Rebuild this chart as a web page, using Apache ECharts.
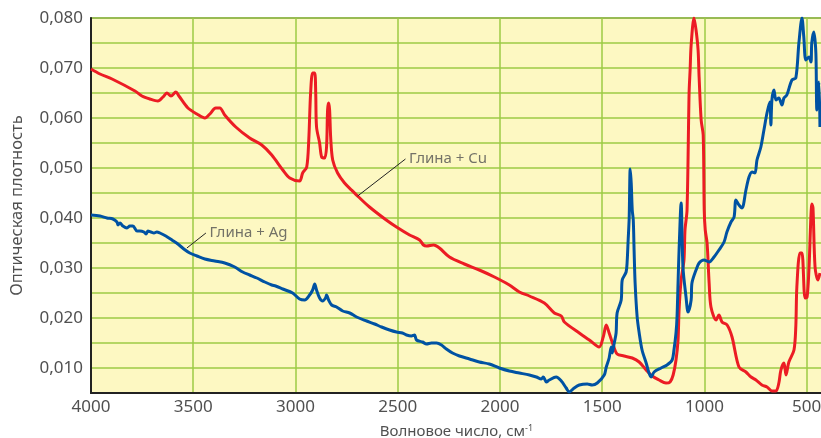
<!DOCTYPE html>
<html>
<head>
<meta charset="utf-8">
<script src="https://cdn.jsdelivr.net/npm/echarts@6/dist/echarts.min.js"></script>
<style>html,body{margin:0;padding:0;background:#fff;}#c{width:821px;height:438px;}</style>
</head>
<body>
<div id="c"></div>
<script>
// Wavenumber ticks (cm-1)
const xTicks = [4000, 3500, 3000, 2500, 2000, 1500, 1000, 500];

// Глина + Cu  [wavenumber, optical density]
const cuX = [4000,3956,3897,3785,3751,3712,3673,3648,3629,3609,3585,3570,3526,3482,3443,3419,3390,3370,3346,3292,3224,3165,3116,3062,3028,2980,2965,2945,2935,2926,2916,2906,2901,2897,2882,2872,2857,2848,2843,2838,2833,2828,2818,2794,2760,2726,2691,2638,2556,2506,2442,2393,2374,2359,2325,2296,2247,2174,2101,2027,1954,1905,1856,1783,1734,1700,1685,1612,1563,1515,1495,1480,1466,1446,1427,1393,1353,1319,1285,1256,1222,1188,1168,1153,1139,1129,1124,1114,1100,1095,1085,1075,1070,1065,1051,1041,1031,1026,1016,1006,1001,996,987,977,968,943,929,914,889,865,831,797,772,748,719,694,670,650,636,626,611,601,587,562,553,548,533,523,508,498,489,474,469,459,445,435];
const cuY = [0.0698,0.0688,0.0678,0.0654,0.0644,0.0638,0.0634,0.0642,0.0650,0.0644,0.0652,0.0644,0.0620,0.0608,0.0600,0.0608,0.0620,0.0620,0.0606,0.0582,0.0560,0.0546,0.0526,0.0496,0.0480,0.0474,0.0490,0.0502,0.0556,0.0650,0.0690,0.0690,0.0650,0.0582,0.0550,0.0522,0.0520,0.0542,0.0616,0.0630,0.0616,0.0562,0.0516,0.0490,0.0470,0.0456,0.0442,0.0422,0.0396,0.0382,0.0366,0.0356,0.0346,0.0344,0.0346,0.0340,0.0322,0.0308,0.0296,0.0282,0.0266,0.0252,0.0244,0.0230,0.0210,0.0204,0.0192,0.0170,0.0156,0.0142,0.0162,0.0186,0.0170,0.0146,0.0128,0.0124,0.0120,0.0112,0.0096,0.0084,0.0076,0.0070,0.0072,0.0086,0.0116,0.0156,0.0216,0.0276,0.0316,0.0376,0.0416,0.0650,0.0696,0.0746,0.0800,0.0776,0.0736,0.0682,0.0596,0.0566,0.0416,0.0376,0.0350,0.0270,0.0222,0.0196,0.0206,0.0192,0.0186,0.0162,0.0102,0.0092,0.0082,0.0076,0.0066,0.0062,0.0054,0.0054,0.0070,0.0096,0.0110,0.0086,0.0112,0.0136,0.0184,0.0262,0.0330,0.0330,0.0240,0.0242,0.0296,0.0428,0.0420,0.0302,0.0276,0.0290];

// Глина + Ag
const agX = [4000,3956,3922,3893,3873,3868,3858,3844,3824,3810,3795,3775,3761,3741,3731,3722,3707,3692,3678,3663,3634,3604,3575,3546,3517,3482,3443,3395,3346,3297,3258,3224,3189,3150,3116,3097,3062,3014,2980,2955,2931,2916,2906,2897,2882,2867,2853,2848,2838,2823,2799,2769,2735,2701,2652,2613,2579,2540,2506,2477,2457,2433,2418,2408,2379,2359,2335,2310,2286,2262,2232,2198,2149,2101,2052,2003,1954,1905,1856,1822,1798,1788,1773,1759,1725,1700,1676,1661,1637,1612,1573,1549,1524,1490,1480,1466,1456,1451,1441,1432,1427,1407,1402,1383,1378,1373,1368,1363,1358,1353,1348,1344,1339,1329,1319,1305,1285,1271,1261,1246,1212,1183,1158,1149,1139,1134,1129,1124,1114,1105,1090,1080,1065,1061,1041,1026,1002,977,953,929,904,890,870,855,846,831,816,797,782,767,753,743,724,709,694,680,675,670,660,650,636,621,611,597,572,553,538,523,514,504,489,479,475,465,455,450,440,435];
const agY = [0.0406,0.0404,0.0400,0.0398,0.0392,0.0386,0.0390,0.0384,0.0380,0.0384,0.0384,0.0374,0.0374,0.0372,0.0368,0.0374,0.0372,0.0370,0.0372,0.0370,0.0364,0.0356,0.0348,0.0338,0.0330,0.0324,0.0318,0.0314,0.0310,0.0302,0.0292,0.0286,0.0280,0.0272,0.0266,0.0264,0.0258,0.0250,0.0238,0.0236,0.0246,0.0256,0.0268,0.0256,0.0240,0.0234,0.0240,0.0246,0.0236,0.0226,0.0222,0.0214,0.0210,0.0202,0.0194,0.0188,0.0182,0.0176,0.0172,0.0170,0.0166,0.0164,0.0166,0.0156,0.0152,0.0148,0.0150,0.0150,0.0146,0.0138,0.0130,0.0124,0.0118,0.0112,0.0108,0.0100,0.0094,0.0090,0.0086,0.0082,0.0078,0.0082,0.0072,0.0076,0.0082,0.0074,0.0060,0.0052,0.0060,0.0066,0.0068,0.0066,0.0070,0.0086,0.0102,0.0120,0.0142,0.0130,0.0150,0.0170,0.0210,0.0236,0.0276,0.0292,0.0312,0.0356,0.0400,0.0498,0.0470,0.0416,0.0396,0.0336,0.0270,0.0202,0.0170,0.0136,0.0110,0.0090,0.0082,0.0092,0.0100,0.0106,0.0116,0.0136,0.0170,0.0202,0.0270,0.0336,0.0430,0.0302,0.0242,0.0212,0.0236,0.0270,0.0296,0.0310,0.0316,0.0312,0.0322,0.0336,0.0352,0.0372,0.0392,0.0402,0.0436,0.0426,0.0420,0.0456,0.0482,0.0492,0.0490,0.0516,0.0542,0.0576,0.0610,0.0632,0.0586,0.0636,0.0656,0.0636,0.0640,0.0626,0.0640,0.0646,0.0676,0.0680,0.0750,0.0800,0.0762,0.0716,0.0722,0.0712,0.0750,0.0772,0.0730,0.0616,0.0672,0.0582];

// Annotation leader lines [wavenumber, density]
const agLeaderX = [3531, 3438];
const agLeaderY = [0.0340, 0.0370];
const cuLeaderX = [2696, 2462];
const cuLeaderY = [0.0444, 0.0518];
const agName = 'Глина + Ag';
const cuName = 'Глина + Cu';

const zip = (xs, ys) => xs.map((x, i) => [x, ys[i]]);
const FONT = 'Noto Sans';
const TXT = '#505050';

function leader(xs, ys) {
  return {
    type: 'line', data: zip(xs, ys), symbol: 'none', silent: true,
    lineStyle: {color: '#222', width: 1}, z: 5
  };
}
function tag(xs, ys, name) {
  const n = xs.length - 1;
  return {
    type: 'scatter', data: [[xs[n], ys[n]]], symbol: 'circle', symbolSize: 1, silent: true,
    itemStyle: {color: 'rgba(0,0,0,0)'}, z: 6,
    label: {show: true, position: 'right', distance: 3, formatter: name,
      color: TXT, fontFamily: FONT, fontSize: 15}
  };
}

const chart = echarts.init(document.getElementById('c'), null, {renderer: 'canvas'});
chart.setOption({
  animation: false,
  grid: {left: 91, right: -1, top: 18, bottom: 45, show: true, outerBoundsMode: 'none', containLabel: false,
    backgroundColor: '#FDF8C2', borderColor: '#666', borderWidth: 1.5},
  xAxis: {
    type: 'value', inverse: true, min: 425, max: 4000,
    name: 'Волновое число, см{sup|-1}', nameLocation: 'middle', nameGap: 31,
    nameTextStyle: {color: TXT, fontFamily: FONT, fontSize: 15,
      rich: {sup: {fontSize: 9, verticalAlign: 'top', color: TXT, fontFamily: FONT, padding: [0,0,6,0]}}},
    axisLine: {show: true, onZero: false, lineStyle: {color: '#222', width: 2}},
    axisTick: {show: false, customValues: xTicks},
    axisLabel: {customValues: xTicks, color: TXT, fontFamily: FONT, fontSize: 17, margin: 6,
      hideOverlap: false, formatter: v => String(v)},
    splitLine: {show: true, lineStyle: {color: '#9CCB45', width: 1.5}}
  },
  yAxis: {
    type: 'value', min: 0.005, max: 0.080, interval: 0.005,
    name: 'Оптическая плотность', nameLocation: 'middle', nameGap: 65, nameRotate: 90,
    nameTextStyle: {color: TXT, fontFamily: FONT, fontSize: 16.5},
    axisLine: {show: true, lineStyle: {color: '#222', width: 2}},
    axisTick: {show: false},
    axisLabel: {color: TXT, fontFamily: FONT, fontSize: 17, margin: 8,
      formatter: v => (Math.round(v * 1000) % 10 === 0 ? v.toFixed(3).replace('.', ',') : '')},
    splitLine: {show: true, lineStyle: {color: '#9CCB45', width: 1.5}}
  },
  series: [
    {type: 'line', name: cuName, data: zip(cuX, cuY), symbol: 'none', smooth: 0.3,
      lineStyle: {color: '#EC1C24', width: 3}, z: 3},
    {type: 'line', name: agName, data: zip(agX, agY), symbol: 'none', smooth: 0.3,
      lineStyle: {color: '#0052A3', width: 3}, z: 4},
    leader(agLeaderX, agLeaderY),
    leader(cuLeaderX, cuLeaderY),
    tag(agLeaderX, agLeaderY, agName),
    tag(cuLeaderX, cuLeaderY, cuName)
  ]
});
</script>
</body>
</html>
